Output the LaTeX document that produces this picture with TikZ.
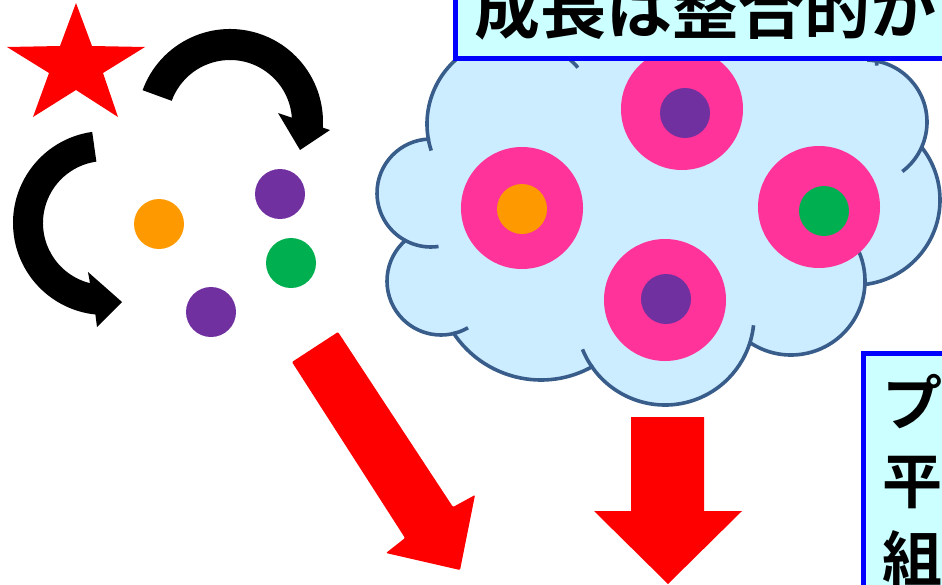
\documentclass[tikz,border=0pt]{standalone}
\usepackage{fontspec}
\newfontfamily\jpfont{Noto Sans CJK JP Bold}
\definecolor{cloudblue}{HTML}{CCECFF}
\definecolor{cloudedge}{HTML}{385D8A}
\definecolor{boxcyan}{HTML}{CCFFFF}
\definecolor{cellpink}{HTML}{FF3399}
\definecolor{dotorange}{HTML}{FF9900}
\definecolor{dotpurple}{HTML}{7030A0}
\definecolor{dotgreen}{HTML}{00B050}

\begin{document}
\begin{tikzpicture}[x=1pt,y=-1pt,
  cloudline/.style={draw=cloudedge,line width=3.6pt},
  notebox/.style={draw=blue,fill=boxcyan,line width=5pt},
  notetext/.style={anchor=base west,inner sep=0pt}]
\useasboundingbox (0,0) rectangle (942,584);
\clip (0,0) rectangle (942,584);

\fill[red] (76,3) -- (92,46) -- (145,47) -- (103,73) -- (118,117) -- (76,90) -- (33,117) -- (49,73) -- (7,47) -- (60,46) -- cycle;

\fill ([shift={(230,122)}]200:93) arc[start angle=200,end angle=363.5,radius=93] -- (330,130) -- (300,150) -- (278,113) -- ([shift={(230,122)}]356:62) arc[start angle=356,end angle=200,radius=62] -- cycle;
\fill ([shift={(105,223)}]262:92) arc[start angle=262,end angle=96,radius=92] -- (97,327) -- (122,302) -- (88,272) -- ([shift={(105,223)}]104:62) arc[start angle=104,end angle=262,radius=62] -- cycle;

\fill[dotorange] (159,224) circle[radius=25];
\fill[dotpurple] (280,194) circle[radius=25];
\fill[dotgreen] (291,263) circle[radius=25];
\fill[dotpurple] (211,312) circle[radius=25];

\foreach \cx/\cy/\r in {513/124/86,431/193/54,441/281/54,541/275/105,665/316/89,791/281/74,855/200/85,865/122/62,725/55/152}
  \fill[cloudblue] (\cx,\cy) circle[radius=\r];
\fill[cloudblue] (513,124) -- (431,193) -- (441,281) -- (541,275) -- (665,316) -- (791,281) -- (855,200) -- (865,122) -- (725,55) -- cycle;
\foreach \cx/\cy/\r/\a/\b in {513/124/86/232/162,513/124/86/-50/-41,431/193/54/269/82,441/281/54/230/60,541/275/105/147/60,665/316/89/158/6,791/281/74/124/-23,855/200/85/84/-39,865/122/62/-88/53,725/55/152/182/364}
  \draw[cloudline] ([shift={(\cx,\cy)}]\a:\r) arc[start angle=\a,end angle=\b,radius=\r];

\foreach \cx/\cy/\dx/\dy/\c in {522/208/522/209/dotorange,682/109/685/113/dotpurple,819/207/824/211/dotgreen,665/300/666/299/dotpurple}{
  \fill[cellpink] (\cx,\cy) circle[radius=61];
  \fill[\c] (\dx,\dy) circle[radius=25];
}

\fill[red,rounded corners=1pt] (292,362) -- (338,332) -- (453,507) -- (475,495) -- (460,570) -- (386,553) -- (405,538) -- cycle;
\fill[red] (631,417) -- (704,417) -- (704,511) -- (742,511) -- (668,584) -- (594,511) -- (631,511) -- cycle;

\draw[notebox] (455,-40) rectangle (990,58);
\node[notetext,font=\jpfont\fontsize{66}{66}\selectfont] (title) at (474,33) {成長は整合的か？};

\draw[notebox] (863,353) rectangle (990,640);
\foreach \ch/\yy in {プ/425,平/503,組/581}
  \node[notetext,font=\jpfont\fontsize{60}{60}\selectfont] (note-\yy) at (882,\yy) {\ch};
\end{tikzpicture}
\end{document}
